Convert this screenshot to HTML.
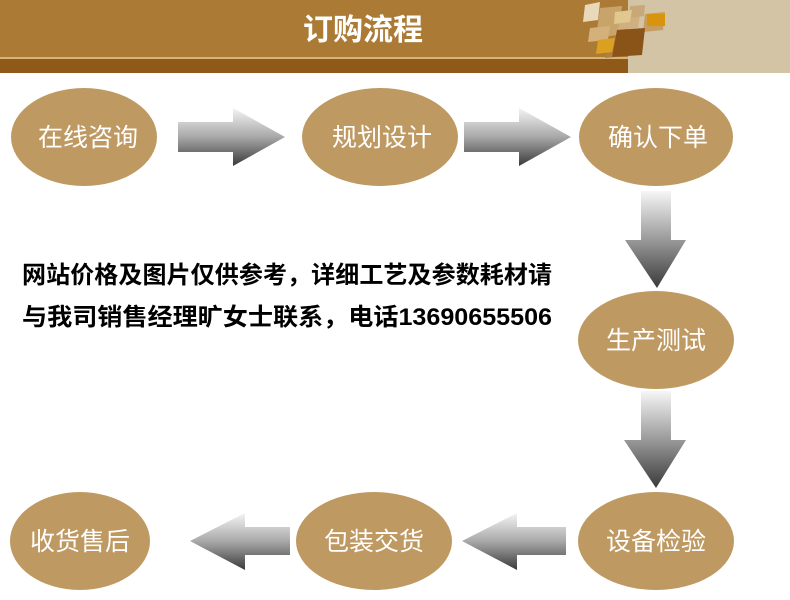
<!DOCTYPE html>
<html><head><meta charset="utf-8"><style>
html,body{margin:0;padding:0;background:#fff;}
svg{display:block;}
text{font-family:"Liberation Sans","Noto Sans CJK SC",sans-serif;}
</style></head><body>
<svg width="790" height="600" viewBox="0 0 790 600" xmlns="http://www.w3.org/2000/svg">
<defs>
<linearGradient id="gh" x1="0" y1="0" x2="0" y2="1">
<stop offset="0" stop-color="#f4f4f4"/><stop offset="0.5" stop-color="#a8a8a8"/><stop offset="1" stop-color="#3a3a3a"/>
</linearGradient>
<linearGradient id="gv" x1="0" y1="0" x2="0" y2="1">
<stop offset="0" stop-color="#f6f6f6"/><stop offset="0.5" stop-color="#9a9a9a"/><stop offset="1" stop-color="#3a3a3a"/>
</linearGradient>
</defs>
<rect x="0" y="0" width="790" height="58" fill="#ab7a35"/>
<rect x="0" y="57" width="790" height="2" fill="#d9b47a"/>
<rect x="0" y="59" width="790" height="14" fill="#8f5a18"/>
<rect x="628" y="0" width="162" height="73" fill="#d2c4a4"/>
<polygon points="585,5 600,2 598,20 583,22" fill="#e8d9b8"/>
<polygon points="600,8 622,6 618,35 596,38" fill="#c9a46a"/>
<polygon points="610,38 640,28 635,55 605,58" fill="#b08040"/>
<polygon points="620,18 640,15 638,28 618,30" fill="#d0b080"/>
<polygon points="630,6 645,5 644,16 629,18" fill="#c8a878"/>
<polygon points="645,14 665,12 663,30 643,32" fill="#c89e60"/>
<polygon points="615,12 632,10 630,22 614,24" fill="#e0c890"/>
<polygon points="590,28 610,26 608,40 588,42" fill="#d4b07a"/>
<polygon points="598,40 615,38 612,52 596,54" fill="#dba020"/>
<polygon points="617,30 645,28 642,55 612,57" fill="#8a5418"/>
<polygon points="647,14 665,14 665,26 647,26" fill="#d8940c"/>
<text x="363" y="40" font-size="30" font-weight="bold" fill="#fff" text-anchor="middle">订购流程</text>

<g fill="#bf9962">
<ellipse cx="84" cy="137" rx="73" ry="49"/>
<ellipse cx="380" cy="137" rx="78" ry="49"/>
<ellipse cx="656" cy="137" rx="77" ry="49"/>
<ellipse cx="656" cy="340" rx="78" ry="49"/>
<ellipse cx="656" cy="541" rx="78" ry="49"/>
<ellipse cx="374" cy="541" rx="78" ry="49"/>
<ellipse cx="80" cy="541" rx="70" ry="49"/>
</g>
<g fill="#fff" font-size="25" text-anchor="middle">
<text x="88" y="146">在线咨询</text>
<text x="382" y="146">规划设计</text>
<text x="658" y="146">确认下单</text>
<text x="656" y="349">生产测试</text>
<text x="656" y="550">设备检验</text>
<text x="374" y="550">包装交货</text>
<text x="80" y="550">收货售后</text>
</g>

<polygon points="178,122 233,122 233,108 285,137 233,166 233,152 178,152" fill="url(#gh)"/>
<polygon points="464,122 519,122 519,108 571,137 519,166 519,152 464,152" fill="url(#gh)"/>
<polygon points="641,191 671,191 671,240 686,240 657,288 625,240 641,240" fill="url(#gv)"/>
<polygon points="641,391 671,391 671,440 686,440 656,488 624,440 641,440" fill="url(#gv)"/>
<polygon points="290,527 245,527 245,513 190,541 245,570 245,555 290,555" fill="url(#gh)"/>
<polygon points="566,527 517,527 517,513 462,541 517,570 517,555 566,555" fill="url(#gh)"/>

<g font-size="24" font-weight="bold" fill="#000">
<text x="22" y="283" textLength="530" lengthAdjust="spacing">网站价格及图片仅供参考，详细工艺及参数耗材请</text>
<text x="22" y="325" textLength="530" lengthAdjust="spacingAndGlyphs">与我司销售经理旷女士联系，电话13690655506</text>
</g>
</svg>
</body></html>
